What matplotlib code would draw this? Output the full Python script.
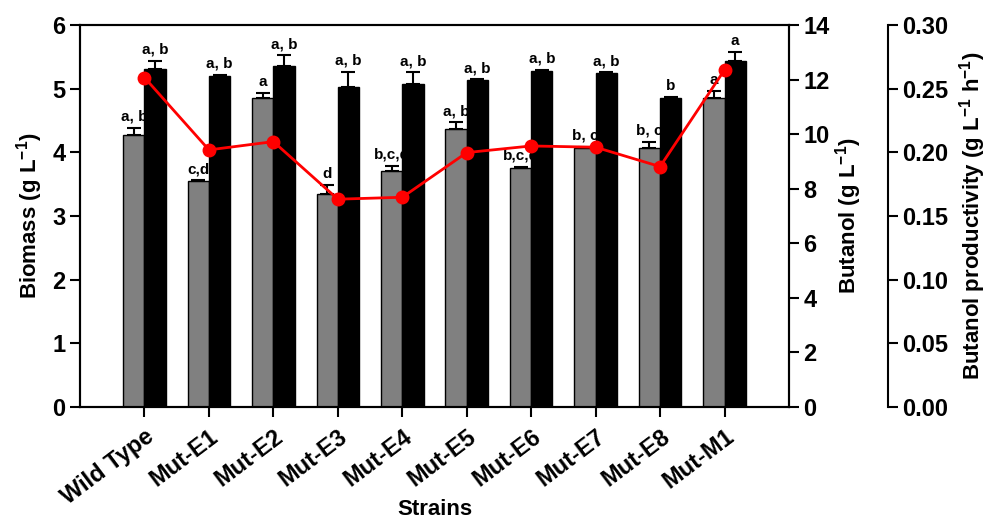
import numpy as np
import matplotlib.pyplot as plt

plt.rcParams['font.family'] = 'Liberation Sans'
plt.rcParams['font.weight'] = 'bold'
plt.rcParams['mathtext.fontset'] = 'custom'
plt.rcParams['mathtext.bf'] = 'Liberation Sans:bold'
plt.rcParams['mathtext.rm'] = 'Liberation Sans:bold'

strains = ['Wild Type', 'Mut-E1', 'Mut-E2', 'Mut-E3', 'Mut-E4',
           'Mut-E5', 'Mut-E6', 'Mut-E7', 'Mut-E8', 'Mut-M1']
biomass = [4.27, 3.55, 4.86, 3.35, 3.71, 4.37, 3.75, 4.07, 4.07, 4.86]
biomass_err = [0.11, 0.01, 0.07, 0.14, 0.08, 0.10, 0.02, 0.02, 0.09, 0.10]
butanol = [12.39, 12.13, 12.49, 11.74, 11.84, 11.98, 12.32, 12.23, 11.32, 12.69]
butanol_err = [0.29, 0.04, 0.40, 0.54, 0.42, 0.03, 0.03, 0.03, 0.03, 0.31]
productivity = [0.2587, 0.2019, 0.2084, 0.1632, 0.1647, 0.1998, 0.2050, 0.2040, 0.1888, 0.2647]
biomass_sig = ['a, b', 'c,d', 'a', 'd', 'b,c,d', 'a, b', 'b,c,d', 'b, c', 'b, c', 'a']
butanol_sig = ['a, b', 'a, b', 'a, b', 'a, b', 'a, b', 'a, b', 'a, b', 'a, b', 'b', 'a']

x = np.arange(len(strains))
w = 0.33

fig = plt.figure(figsize=(10.03, 5.27), dpi=100)
ax = fig.add_axes([0.0798, 0.2277, 0.7068, 0.7249])

ax.bar(x - w/2, biomass, w, color='#808080', edgecolor='black', linewidth=1, zorder=2)
ax.errorbar(x - w/2, biomass, yerr=[np.zeros(len(x)), biomass_err], fmt='none',
            ecolor='black', elinewidth=1.5, capsize=5, capthick=1.5, zorder=3)
for xi, v, e, s in zip(x - w/2, biomass, biomass_err, biomass_sig):
    ax.annotate(s, (xi, v + e), xytext=(0, 3), textcoords='offset points',
                ha='center', va='bottom', fontsize=11, fontweight='bold')

ax.set_xlim(-1, 10)
ax.set_ylim(0, 6)
ax.set_xticks(x)
ax.set_xticklabels(strains, rotation=37, ha='right', rotation_mode='anchor', fontsize=17)
ax.set_yticks(range(7))
ax.tick_params(axis='y', labelsize=17, direction='out', length=7, width=1.5)
ax.tick_params(axis='x', direction='out', length=7, width=1.5, pad=6)
ax.set_ylabel('Biomass (g L$^{-1}$)', fontsize=16, fontweight='bold', labelpad=5)
ax.set_xlabel('Strains', fontsize=16, fontweight='bold')
ax.xaxis.set_label_coords(0.5, -0.24)
for sp in ax.spines.values():
    sp.set_linewidth(1.5)

ax2 = ax.twinx()
ax2.bar(x + w/2, butanol, w, color='black', edgecolor='black', linewidth=1, zorder=2)
ax2.errorbar(x + w/2, butanol, yerr=[np.zeros(len(x)), butanol_err], fmt='none',
             ecolor='black', elinewidth=1.5, capsize=5, capthick=1.5, zorder=3)
for xi, v, e, s in zip(x + w/2, butanol, butanol_err, butanol_sig):
    ax2.annotate(s, (xi, v + e), xytext=(0, 3), textcoords='offset points',
                 ha='center', va='bottom', fontsize=11, fontweight='bold')
ax2.set_ylim(0, 14)
ax2.set_yticks(range(0, 15, 2))
ax2.tick_params(axis='y', labelsize=17, direction='out', length=7, width=1.5)
ax2.set_ylabel('Butanol (g L$^{-1}$)', fontsize=16, fontweight='bold', labelpad=2)
for sp in ax2.spines.values():
    sp.set_linewidth(1.5)

ax3 = ax.twinx()
ax3.spines['right'].set_position(('axes', 1.1396))
ax3.spines['right'].set_linewidth(1.5)
for k in ['top', 'bottom', 'left']:
    ax3.spines[k].set_visible(False)
ax3.plot(x, productivity, color='red', linewidth=2, marker='o', markersize=9, zorder=4)
ax3.set_ylim(0, 0.30)
ax3.set_yticks(np.arange(0, 0.31, 0.05))
ax3.set_yticklabels(['%.2f' % t for t in np.arange(0, 0.31, 0.05)])
ax3.tick_params(axis='y', labelsize=17, direction='out', length=7, width=1.5)
ax3.set_ylabel('Butanol productivity (g L$^{-1}$ h$^{-1}$)',
               fontsize=16, fontweight='bold', labelpad=6)

fig.savefig('out.png', dpi=100)
